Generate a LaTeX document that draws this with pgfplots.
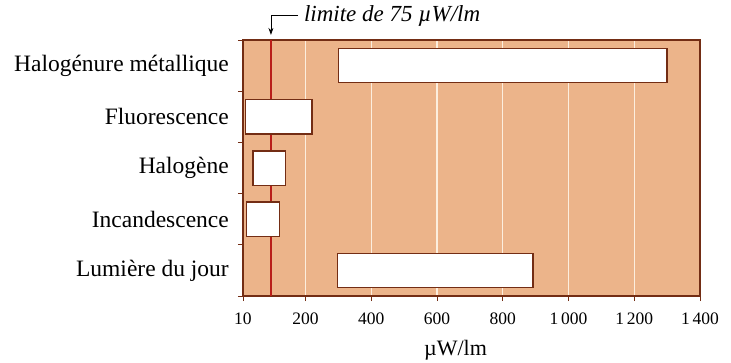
\documentclass[border=0pt]{standalone}
\usepackage{fontspec}
\setmainfont{Liberation Serif}
\usepackage{pgfplots}
\pgfplotsset{compat=1.18}
\usepackage{pgfplotstable}
\usetikzlibrary{arrows.meta}
\definecolor{bgtan}{RGB}{236,180,138}
\definecolor{edgebrown}{RGB}{115,45,20}
\definecolor{limred}{RGB}{185,30,25}
\definecolor{gridcream}{RGB}{252,238,222}

\pgfplotstableread{
y lo hi
4.5 300 1300
3.5 18 220
2.5 40 140
1.5 20 121
0.5 298 892
}\bars

\begin{document}
\begin{tikzpicture}
\begin{axis}[
 at={(0,0)}, anchor=south west,
 scale only axis, width=457pt, height=256pt,
 xmin=10, xmax=1400, ymin=0, ymax=5,
 clip=false,
 xbar stacked, bar width=0.67,
 axis background/.style={fill=bgtan},
 axis line style={draw=edgebrown, line width=1.2pt},
 xtick={10,200,400,600,800,1000,1200,1400},
 xticklabels={10,200,400,600,800,1\,000,1\,200,1\,400},
 xtick pos=lower, ytick pos=left,
 xmajorgrids, major grid style={draw=gridcream, line width=1.3pt},
 tick align=outside, major tick length=5pt,
 tick style={draw=edgebrown, line width=0.8pt},
 ytick={0,1,2,3,4,5}, yticklabels={},
 extra y ticks={0.5,1.5,2.5,3.5,4.5},
 extra y tick labels={Lumière du jour,Incandescence,Halogène,Fluorescence,Halogénure métallique},
 extra y tick style={major tick length=0pt, yticklabel style={font=\fontsize{23.5}{26}\selectfont, inner sep=0pt, anchor=east, xshift=-14pt}},
 extra x ticks={95}, extra x tick labels={},
 extra x tick style={major tick length=0pt, grid=major, major grid style={draw=limred, line width=1.6pt}},
 xticklabel style={font=\fontsize{17.5}{20}\selectfont, inner sep=0pt, anchor=north, yshift=-12pt},
 xlabel={µW/lm},
 xlabel style={font=\fontsize{22}{24}\selectfont, at={(axis description cs:0.465,0)}, anchor=center, yshift=-54pt},
]
\addplot[draw=none, fill=none, forget plot] table[x=lo, y=y]{\bars};
\addplot[draw=edgebrown, fill=white, line width=1.3pt] table[x expr=\thisrow{hi}-\thisrow{lo}, y=y]{\bars};
\draw[black, line width=0.8pt, -{Stealth[length=7pt, width=5pt]}] (axis cs:178,5.49) -- (axis cs:95,5.49) -- (axis cs:95,5.1);
\node[anchor=west, font=\fontsize{23}{26}\selectfont\itshape, inner sep=0pt] at (axis cs:195,5.47) {limite de 75 µW/lm};
\end{axis}
\pgfresetboundingbox
\path[use as bounding box] (-243pt,-66pt) rectangle (488pt,296pt);
\end{tikzpicture}
\end{document}
